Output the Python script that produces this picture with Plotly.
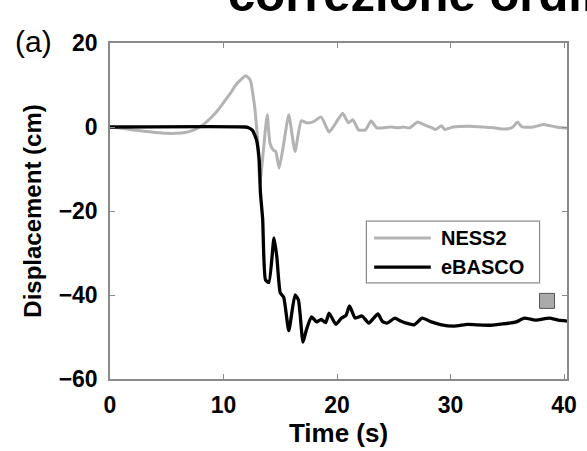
import plotly.graph_objects as go

# NESS2 displacement record (time in s, displacement in cm)
ness2_t = [0, 1, 2, 3, 4, 5, 5.8, 6.6, 7.3, 7.9, 8.4, 9.0, 9.5, 10.0, 10.6, 11.0, 11.5,
           11.95, 12.35, 12.7, 13.0, 13.2, 13.5, 13.85, 14.1, 14.4, 14.6, 14.9, 15.3,
           15.75, 16.3, 16.85, 17.3, 17.9, 18.6, 19.3, 19.9, 20.5, 21.0, 21.4, 21.9,
           22.5, 23.0, 23.5, 24.0, 24.8, 25.4, 25.8, 26.4, 27.1, 27.7, 28.3, 28.7,
           29.2, 29.5, 30.2, 31.7, 32.9, 33.8, 34.9, 35.5, 35.9, 36.3, 37.3, 38.2,
           39.3, 40.26]
ness2_y = [0, -0.3, -0.7, -1.0, -1.3, -1.5, -1.5, -1.3, -0.8, 0.0, 1.0, 2.5, 4.0, 5.8,
           8.0, 9.7, 11.2, 12.2, 11.2, 5.7, -3.0, -13.5, -6.0, 2.9, -4.0, -5.5, -5.8,
           -9.8, -4.0, 2.9, -5.8, 1.5, 1.0, 1.2, 2.4, -1.2, 1.0, 3.3, 1.0, 1.7, -0.7,
           -0.7, 1.4, -0.2, -0.2, 0.0, -0.2, 0.0, -0.2, 1.2, 0.5, -0.1, -0.6, 0.3,
           -0.6, 0.0, 0.2, 0.0, -0.2, -0.5, 0.0, 1.2, 0.0, 0.0, 0.6, 0.0, -0.3]

# eBASCO displacement record (time in s, displacement in cm)
ebasco_t = [0, 11.9, 12.2, 12.55, 12.9, 13.15, 13.25, 13.45, 13.7, 14.0, 14.45, 14.7,
            15.0, 15.3, 15.75, 16.3, 16.6, 17.0, 17.3, 17.75, 18.2, 18.6, 19.0, 19.3,
            19.9, 20.4, 20.8, 21.1, 21.6, 22.2, 22.8, 23.2, 23.6, 24.0, 24.4, 25.1,
            25.6, 26.1, 26.8, 27.5, 28.3, 29.2, 30.3, 31.5, 32.3, 33.5, 34.6, 35.8,
            36.5, 37.5, 38.7, 39.5, 40.26]
ebasco_y = [0, 0, -0.2, -0.8, -3.0, -8.0, -15.5, -22.0, -36.4, -37.0, -26.4, -31.0,
            -39.5, -40.5, -48.5, -40.0, -41.2, -51.2, -48.3, -45.2, -46.4, -45.8,
            -46.6, -44.3, -47.0, -45.5, -44.8, -42.6, -45.5, -45.0, -46.7, -45.6,
            -44.5, -46.3, -46.7, -45.5, -46.2, -46.7, -47.1, -45.5, -46.4, -47.1,
            -47.4, -47.0, -47.1, -47.2, -46.9, -46.4, -45.5, -46.0, -45.5, -46.0,
            -46.2]

# Square marker
marker_t = [38.5]
marker_y = [-41.4]

x_ticks = [0, 10, 20, 30, 40]
y_ticks = [-60, -40, -20, 0, 20]

FONT = "Liberation Sans, Arial, sans-serif"
GRAY = "#b3b3b3"
AXIS = "#8a8a8a"

fig = go.Figure()
fig.add_trace(go.Scatter(x=ness2_t, y=ness2_y, mode="lines", name="NESS2",
                         line=dict(color=GRAY, width=3, shape="spline", smoothing=0.5),
                         showlegend=False))
fig.add_trace(go.Scatter(x=ebasco_t, y=ebasco_y, mode="lines", name="eBASCO",
                         line=dict(color="black", width=3.3, shape="spline", smoothing=0.5),
                         showlegend=False))
fig.add_trace(go.Scatter(x=marker_t, y=marker_y, mode="markers", showlegend=False,
                         marker=dict(symbol="square", size=15, color="#aaaaaa",
                                     line=dict(color="#555555", width=1))))

axis_common = dict(showline=True, linecolor=AXIS, linewidth=1.5, mirror="ticks",
                   ticks="inside", ticklen=5, tickcolor=AXIS, showgrid=False,
                   zeroline=False,
                   tickfont=dict(family=FONT, size=23, color="black", weight="bold"))

fig.update_xaxes(range=[0, 40.26], tickvals=x_ticks, ticklabelstandoff=5,
                 title=dict(text="Time (s)", standoff=4,
                            font=dict(family=FONT, size=26, color="black", weight="bold")),
                 **axis_common)
fig.update_yaxes(range=[-60, 20], tickvals=y_ticks, ticklabelstandoff=6,
                 title=dict(text="Displacement (cm)", standoff=10,
                            font=dict(family=FONT, size=24, color="black", weight="bold")),
                 **axis_common)

# Legend box drawn in paper coordinates (plot area 467 x 336 px)
shapes = [
    dict(type="rect", xref="paper", yref="paper", x0=0.561, x1=0.940, y0=0.286, y1=0.470,
         line=dict(color=AXIS, width=1.2), fillcolor="white", layer="above"),
    dict(type="line", xref="paper", yref="paper", x0=0.578, x1=0.702, y0=0.420, y1=0.420,
         line=dict(color=GRAY, width=3), layer="above"),
    dict(type="line", xref="paper", yref="paper", x0=0.578, x1=0.702, y0=0.333, y1=0.333,
         line=dict(color="black", width=3.3), layer="above"),
]
annotations = [
    dict(text="NESS2", xref="paper", yref="paper", x=0.719, y=0.420, xanchor="left",
         yanchor="middle", showarrow=False,
         font=dict(family=FONT, size=20, color="black", weight="bold")),
    dict(text="eBASCO", xref="paper", yref="paper", x=0.719, y=0.333, xanchor="left",
         yanchor="middle", showarrow=False,
         font=dict(family=FONT, size=20, color="black", weight="bold")),
    dict(text="(a)", xref="paper", yref="paper", x=-0.167, y=1.005, xanchor="center",
         yanchor="middle", showarrow=False,
         font=dict(family=FONT, size=30, color="black")),
    dict(text="correzione ordinaria", xref="paper", yref="paper", x=0.253, y=1.059,
         xanchor="left", yanchor="bottom", showarrow=False,
         font=dict(family=FONT, size=49, color="black", weight="bold")),
]

fig.update_layout(width=587, height=451, plot_bgcolor="white", paper_bgcolor="white",
                  margin=dict(l=110, r=10, t=43, b=72), shapes=shapes,
                  annotations=annotations)

fig.write_html("out.html")
